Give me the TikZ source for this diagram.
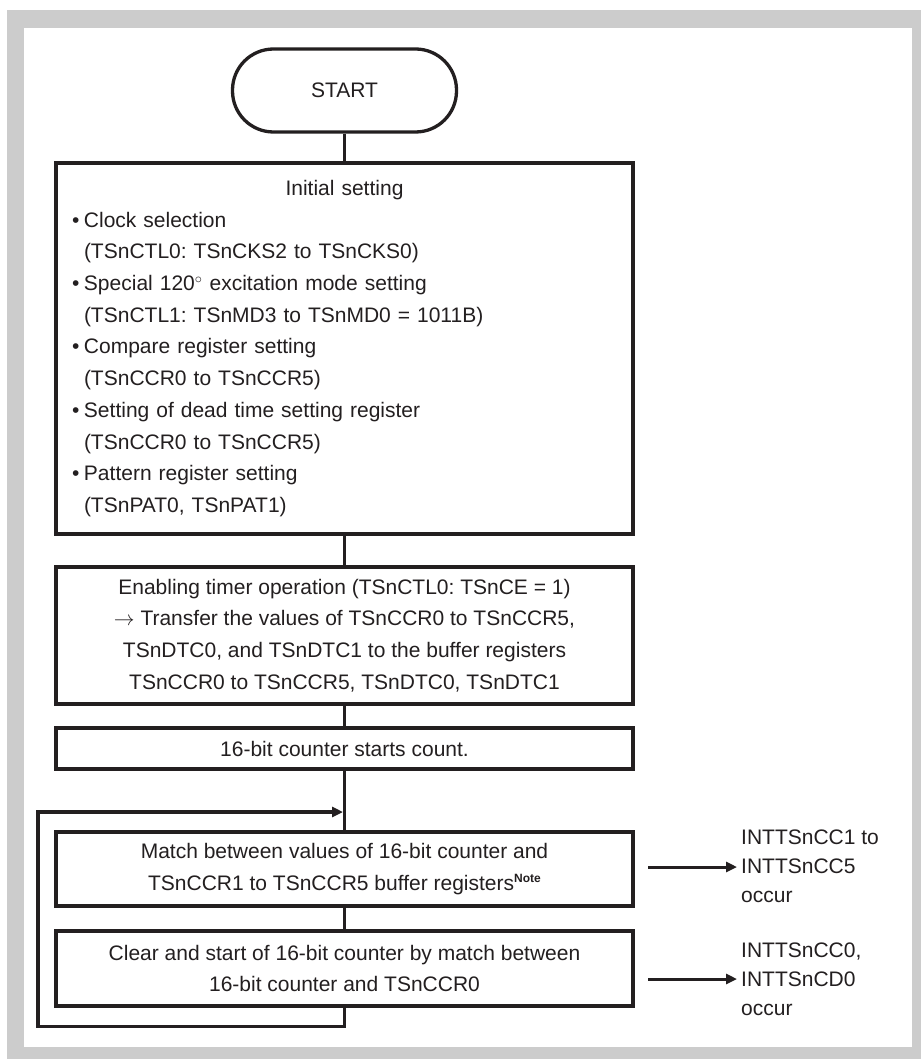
\documentclass[tikz,border=0pt]{standalone}
\usepackage{fontspec}
\setmainfont{Liberation Sans}
\usetikzlibrary{arrows.meta,calc}
\definecolor{framegray}{RGB}{204,204,204}
\definecolor{ink}{RGB}{35,31,32}
\newcommand{\bl}{\makebox[12pt][l]{•}}
\newcommand{\ind}{\hspace*{12pt}}
\frenchspacing
\begin{document}
\frenchspacing
\begin{tikzpicture}[x=1pt,y=-1pt,
  every node/.style={font=\fontsize{21}{31.7}\selectfont\frenchspacing, text=ink},
  box/.style={draw=ink, line width=3.3pt, minimum width=577pt, inner sep=0pt},
  conn/.style={draw=ink, line width=3.3pt},
  arr/.style={draw=ink, line width=3pt, -{Triangle[length=11pt,width=10pt]}},
  lbl/.style={anchor=west, align=left, inner sep=0pt, font=\fontsize{21}{29}\selectfont},
]
\useasboundingbox (0,0) rectangle (920,1059);
\fill[framegray] (7,10) rectangle (930,1070);
\fill[white] (24,28) rectangle (912,1047);

\node[draw=ink, line width=3.3pt, rounded corners=41pt, minimum width=224pt, minimum height=83pt] (start) at (344.5,90.5) {START};

\node[box, minimum height=371pt, text width=545pt, inner xsep=16pt, align=left] (init) at (344.5,348.5)
 {\makebox[545pt]{Initial setting}\\
  \bl Clock selection\\
  \ind(TSnCTL0: TSnCKS2 to TSnCKS0)\\
  \bl Special 120$^\circ$ excitation mode setting\\
  \ind(TSnCTL1: TSnMD3 to TSnMD0 = 1011B)\\
  \bl Compare register setting\\
  \ind(TSnCCR0 to TSnCCR5)\\
  \bl Setting of dead time setting register\\
  \ind(TSnCCR0 to TSnCCR5)\\
  \bl Pattern register setting\\
  \ind(TSnPAT0, TSnPAT1)};

\node[box, minimum height=137pt, align=center] (enab) at (344.5,635.5)
 {Enabling timer operation (TSnCTL0: TSnCE = 1)\\
  $\rightarrow$ Transfer the values of TSnCCR0 to TSnCCR5,\\
  TSnDTC0, and TSnDTC1 to the buffer registers\\
  TSnCCR0 to TSnCCR5, TSnDTC0, TSnDTC1};

\node[box, minimum height=41pt] (count) at (344.5,748.5) {16-bit counter starts count.};

\node[box, minimum height=74pt, align=center] (match) at (344.5,869)
 {Match between values of 16-bit counter and\\
  TSnCCR1 to TSnCCR5 buffer registers\raisebox{8pt}{\fontsize{12}{12}\selectfont\bfseries Note}};

\node[box, minimum height=75pt, align=center] (clear) at (344.5,968.5)
 {Clear and start of 16-bit counter by match between\\
  16-bit counter and TSnCCR0};

\draw[conn] (start) -- (init);
\draw[conn] (init) -- (enab);
\draw[conn] (enab) -- (count);
\draw[conn] (count) -- (match);
\draw[conn] (match) -- (clear);

\coordinate (lp) at (343,812);
\draw[arr, line width=3.3pt, line join=miter] (clear.south) -- ++(0,19) -| (38,812) -- (lp);

\node[lbl] (int1) at (741,866) {INTTSnCC1 to\\ INTTSnCC5\\ occur};
\node[lbl] (int2) at (741,979) {INTTSnCC0,\\ INTTSnCD0\\ occur};
\coordinate (a1) at (648,867);
\coordinate (a2) at (648,979);
\draw[arr] (a1) -- ($(a1 -| int1.west)+(-4,0)$);
\draw[arr] (a2) -- ($(a2 -| int2.west)+(-4,0)$);
\end{tikzpicture}
\end{document}
